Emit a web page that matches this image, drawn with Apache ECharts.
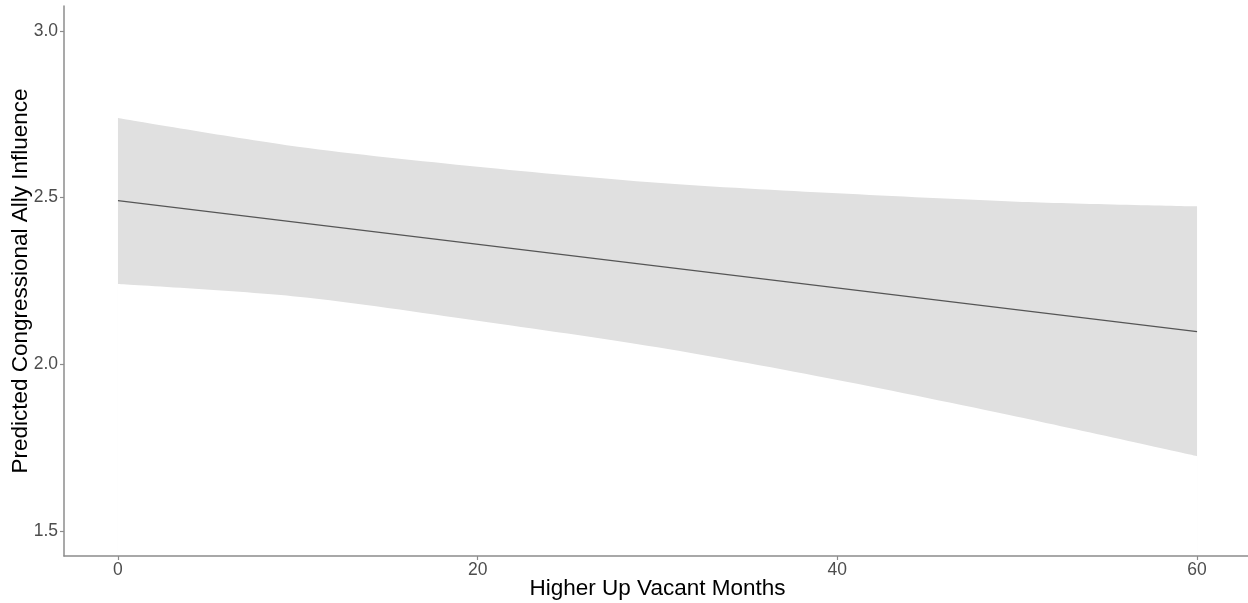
<!DOCTYPE html>
<html>
<head>
<meta charset="utf-8">
<script src="https://cdn.jsdelivr.net/npm/echarts@6/dist/echarts.min.js"></script>
<style>
html,body{margin:0;padding:0;background:#fff;}
#chart{width:1248px;height:603px;}
</style>
</head>
<body>
<div id="chart"></div>
<script>
// Data
const bandX = [0, 10, 20, 30, 40, 50, 60];
const bandUpper = [2.739, 2.653, 2.593, 2.545, 2.513, 2.488, 2.474];
const bandLower = [2.241, 2.203, 2.131, 2.051, 1.953, 1.843, 1.725];
const fitX = [0, 60];
const fitY = [2.491, 2.098];
const xTicks = [0, 20, 40, 60];
const yTicks = [1.5, 2.0, 2.5, 3.0];
const xTitle = 'Higher Up Vacant Months';
const yTitle = 'Predicted Congressional Ally Influence';

const upperData = bandX.map((x, i) => [x, bandUpper[i]]);
const lowerData = bandX.map((x, i) => [x, bandLower[i]]);
const fitData = fitX.map((x, i) => [x, fitY[i]]);

const FONT = '"Liberation Sans", Arial, sans-serif';
const axisCommon = {
  z: 10,
  nameMoveOverlap: false,
  axisLine: { show: true, onZero: false, lineStyle: { color: '#8c8c8c', width: 1.5 } },
  axisTick: { show: true, length: 4, lineStyle: { color: '#8c8c8c', width: 1.2 } },
  splitLine: { show: false },
  nameTextStyle: { color: '#000', fontSize: 22.5, fontFamily: FONT }
};

const chart = echarts.init(document.getElementById('chart'), null, { renderer: 'canvas' });
chart.setOption({
  animation: false,
  backgroundColor: '#fff',
  grid: { left: 64, right: -3, top: 6, bottom: 47, containLabel: false, outerBoundsMode: 'none' },
  xAxis: Object.assign({}, axisCommon, {
    type: 'value', min: -3, max: 63,
    name: xTitle, nameLocation: 'middle', nameGap: 21,
    axisTick: Object.assign({}, axisCommon.axisTick, { customValues: xTicks }),
    axisLabel: { customValues: xTicks, color: '#4d4d4d', fontSize: 17.5, fontFamily: FONT, margin: 5 }
  }),
  yAxis: Object.assign({}, axisCommon, {
    type: 'value', min: 1.425, max: 3.075,
    name: yTitle, nameLocation: 'middle', nameGap: 32,
    axisTick: Object.assign({}, axisCommon.axisTick, { customValues: yTicks }),
    axisLabel: { customValues: yTicks, color: '#4d4d4d', fontSize: 17.5, fontFamily: FONT, margin: 6,
      formatter: v => Number(v).toFixed(1) }
  }),
  series: [
    { type: 'line', data: upperData, symbol: 'none', smooth: 0.3, z: 1,
      lineStyle: { opacity: 0 }, areaStyle: { color: '#e0e0e0', opacity: 1, origin: 'start' }, silent: true },
    { type: 'line', data: lowerData, symbol: 'none', smooth: 0.3, z: 2,
      lineStyle: { opacity: 0 }, areaStyle: { color: '#ffffff', opacity: 1, origin: 'start' }, silent: true },
    { type: 'line', data: fitData, symbol: 'none', z: 3,
      lineStyle: { color: '#555555', width: 1.1 }, silent: true }
  ]
});
</script>
</body>
</html>
